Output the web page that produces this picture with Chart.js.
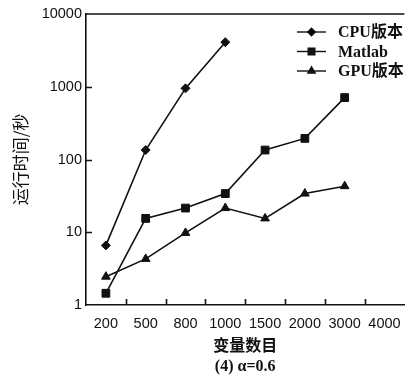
<!DOCTYPE html>
<html>
<head>
<meta charset="utf-8">
<script src="https://cdn.jsdelivr.net/npm/chart.js@4"></script>
<style>
  html, body { margin: 0; padding: 0; background: #fff; }
  #wrap { width: 411px; height: 379px; }
</style>
</head>
<body>
<div id="wrap"><canvas id="chart" width="411" height="379"></canvas></div>
<script>
const labels = ['200', '500', '800', '1000', '1500', '2000', '3000', '4000'];
const cpu = [6.6, 135, 950, 4100, null, null, null, null];
const matlab = [1.45, 15.5, 21.5, 34, 135, 195, 710, null];
const gpu = [2.45, 4.3, 9.8, 21.5, 15.5, 34, 43, null];
const yTicks = [1, 10, 100, 1000, 10000];

const ink = '#111';
const sizes = { rectRot: 4.5, rect: 5.5, triangle: 5 };

// legend drawn inside plot area, plus inward ticks and top frame line
const frame = {
    id: 'frame',
    afterDraw(chart) {
        const c = chart.ctx;
        const a = chart.chartArea;
        const x = chart.scales.x;
        const y = chart.scales.y;
        c.save();
        c.strokeStyle = ink;
        c.lineWidth = 1.6;
        c.beginPath();
        c.moveTo(a.left, a.top);
        c.lineTo(a.right, a.top);
        // x ticks between categories
        for (let i = 1; i < labels.length; i++) {
            const px = Math.round((x.getPixelForValue(i - 1) + x.getPixelForValue(i)) / 2) + 0.5;
            c.moveTo(px, a.bottom);
            c.lineTo(px, a.bottom - 6);
        }
        yTicks.slice(1, -1).forEach(v => {
            const py = Math.round(y.getPixelForValue(v)) + 0.5;
            c.moveTo(a.left, py);
            c.lineTo(a.left + 6, py);
        });
        c.stroke();

        // legend
        const lx = 297, tx = 338;
        let ly = 32;
        chart.data.datasets.forEach(ds => {
            c.lineWidth = 1.4;
            c.beginPath();
            c.moveTo(lx, ly);
            c.lineTo(lx + 29, ly);
            c.stroke();
            Chart.helpers.drawPoint(c, {
                pointStyle: ds.pointStyle, radius: sizes[ds.pointStyle] - 0.8, borderWidth: 1
            }, lx + 14.5, ly);
            c.fillStyle = ink;
            c.font = 'bold 16px "Liberation Serif", "Noto Sans CJK SC", serif';
            c.textBaseline = 'middle';
            c.fillText(ds.label, tx, ly + 1);
            ly += 19.5;
        });
        c.restore();
    }
};

function series(label, data, style) {
    return {
        label: label,
        data: data,
        borderColor: ink,
        backgroundColor: ink,
        borderWidth: 1.6,
        pointStyle: style,
        pointRadius: sizes[style],
        pointBorderWidth: 1,
        pointBackgroundColor: ink,
        pointBorderColor: ink,
        tension: 0,
        spanGaps: false
    };
}

new Chart(document.getElementById('chart').getContext('2d'), {
    type: 'line',
    data: {
        labels: labels,
        datasets: [
            series('CPU版本', cpu, 'rectRot'),
            series('Matlab', matlab, 'rect'),
            series('GPU版本', gpu, 'triangle')
        ]
    },
    options: {
        responsive: false,
        animation: false,
        layout: { padding: { top: 14, right: 0, bottom: 0, left: 0 } },
        plugins: {
            legend: { display: false },
            tooltip: { enabled: false }
        },
        scales: {
            x: {
                type: 'category',
                offset: true,
                grid: { display: false, drawTicks: false, offset: true },
                border: { display: true, color: ink, width: 1.6 },
                ticks: {
                    color: ink,
                    padding: 10,
                    maxRotation: 0,
                    autoSkip: false,
                    font: { family: '"Liberation Sans", Arial, sans-serif', size: 14.5 }
                },
                title: {
                    display: true,
                    text: ['变量数目', '(4) α=0.6'],
                    color: ink,
                    font: { family: '"Liberation Serif", "Noto Sans CJK SC", serif', size: 16, weight: 'bold', lineHeight: 1.25 },
                    padding: { top: 0, bottom: 2 }
                },
                afterFit(s) { s.height = 74; }
            },
            y: {
                type: 'logarithmic',
                min: 1,
                max: 10000,
                afterBuildTicks(s) { s.ticks = yTicks.map(v => ({ value: v })); },
                grid: { display: false, drawTicks: false },
                border: { display: true, color: ink, width: 1.6 },
                ticks: {
                    color: ink,
                    padding: 4,
                    font: { family: '"Liberation Sans", Arial, sans-serif', size: 14.5 },
                    callback: v => String(v)
                },
                title: {
                    display: true,
                    text: '运行时间/秒',
                    color: ink,
                    font: { family: '"Noto Sans CJK SC", sans-serif', size: 17 },
                    padding: { top: 10, bottom: 0 }
                },
                afterFit(s) { s.width = 86; }
            }
        }
    },
    plugins: [frame]
});
</script>
</body>
</html>
